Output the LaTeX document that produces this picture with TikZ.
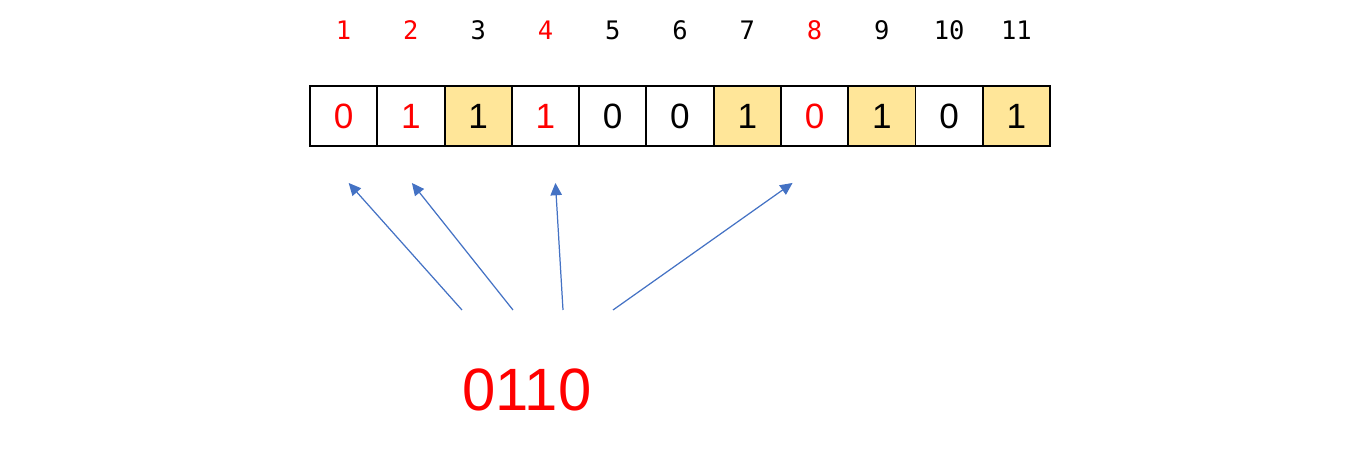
\documentclass[tikz,border=0pt]{standalone}
\usepackage{fontspec}
\setmainfont{Liberation Sans}
\newfontfamily\idxfont{DejaVu Sans Mono}
\usetikzlibrary{arrows.meta}
\definecolor{parred}{HTML}{FF0000}
\definecolor{datayellow}{HTML}{FFE699}
\definecolor{arrowblue}{HTML}{4472C4}
\tikzset{
  bit/.style={draw, line width=1.1pt, minimum width=1.3455cm, minimum height=1.2cm, inner sep=0pt, font=\fontsize{20}{24}\selectfont},
  idx/.style={font=\idxfont\fontsize{14.5}{17}\selectfont},
  arr/.style={arrowblue, line width=0.7pt, -{Triangle[length=7pt,width=6.5pt]}}
}
\begin{document}
\begin{tikzpicture}
\useasboundingbox (0,0) rectangle (27.24,-9.16);

\node (P-1) at (6.873,-0.6) [idx, text=parred]{1};
\node (P-2) at (8.218,-0.6) [idx, text=parred]{2};
\node (P-3) at (9.564,-0.6) [idx]{3};
\node (P-4) at (10.909,-0.6) [idx, text=parred]{4};
\node (P-5) at (12.255,-0.6) [idx]{5};
\node (P-6) at (13.600,-0.6) [idx]{6};
\node (P-7) at (14.946,-0.6) [idx]{7};
\node (P-8) at (16.291,-0.6) [idx, text=parred]{8};
\node (P-9) at (17.637,-0.6) [idx]{9};
\node (P-10) at (18.982,-0.6) [idx]{10};
\node (P-11) at (20.328,-0.6) [idx]{11};

\node (C-1) at (6.873,-2.32) [bit, text=parred]{0};
\node (C-2) at (8.218,-2.32) [bit, text=parred]{1};
\node (C-3) at (9.564,-2.32) [bit, fill=datayellow]{1};
\node (C-4) at (10.909,-2.32) [bit, text=parred]{1};
\node (C-5) at (12.255,-2.32) [bit]{0};
\node (C-6) at (13.600,-2.32) [bit]{0};
\node (C-7) at (14.946,-2.32) [bit, fill=datayellow]{1};
\node (C-8) at (16.291,-2.32) [bit, text=parred]{0};
\node (C-9) at (17.637,-2.32) [bit, fill=datayellow]{1};
\node (C-10) at (18.982,-2.32) [bit]{0};
\node (C-11) at (20.328,-2.32) [bit, fill=datayellow]{1};

\node (Code) at (10.54,-7.8) [text=parred, font=\fontsize{34}{38}\selectfont]{0110};

\coordinate (S-1) at (9.24,-6.2);
\coordinate (S-2) at (10.26,-6.2);
\coordinate (S-3) at (11.26,-6.2);
\coordinate (S-4) at (12.26,-6.2);

\draw [arr] (S-1) -- ([xshift=0.1cm,yshift=-0.72cm]C-1.south);
\draw [arr] (S-2) -- ([xshift=0.02cm,yshift=-0.72cm]C-2.south);
\draw [arr] (S-3) -- ([xshift=0.2cm,yshift=-0.72cm]C-4.south);
\draw [arr] (S-4) -- ([xshift=-0.44cm,yshift=-0.72cm]C-8.south);

\end{tikzpicture}
\end{document}
